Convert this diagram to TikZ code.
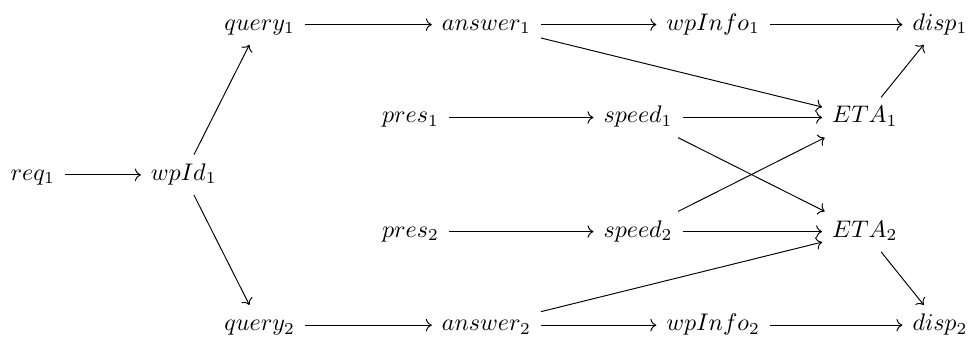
\documentclass[tikz,border=0pt]{standalone}
\usepackage{amsmath,amssymb}
\usepackage{tikz}
\usetikzlibrary{arrows.meta,positioning}

\begin{document}
\begin{tikzpicture}[ev/.style={inner sep=4pt,text height=1.5ex,text depth=0.45ex},
  >={Computer Modern Rightarrow}]
\useasboundingbox (0,0) rectangle (14.2,4.99);
% request and lookup
\node[ev] (req1) at (0.48,2.43) {$req_1$};
\node[ev] (wpId1) at (2.69,2.43) {$wpId_1$};
\node[ev] (query1) at (3.80,4.63) {$query_1$};
\node[ev] (query2) at (3.80,0.23) {$query_2$};
\node[ev] (answer1) at (7.12,4.63) {$answer_1$};
\node[ev] (answer2) at (7.12,0.23) {$answer_2$};
\node[ev] (wpInfo1) at (10.44,4.63) {$wpInfo_1$};
\node[ev] (wpInfo2) at (10.44,0.23) {$wpInfo_2$};
\node[ev] (disp1) at (13.76,4.63) {$disp_1$};
\node[ev] (disp2) at (13.76,0.23) {$disp_2$};
% sensors
\node[ev] (pres1) at (6.01,3.27) {$pres_1$};
\node[ev] (pres2) at (6.01,1.60) {$pres_2$};
\node[ev] (speed1) at (9.34,3.27) {$speed_1$};
\node[ev] (speed2) at (9.34,1.60) {$speed_2$};
\node[ev] (ETA1) at (12.66,3.27) {$ETA_1$};
\node[ev] (ETA2) at (12.66,1.60) {$ETA_2$};

\draw[->] (req1) -- (wpId1);
\draw[->] (wpId1) -- (query1);
\draw[->] (wpId1) -- (query2);
\foreach \i in {1,2}{
  \draw[->] (query\i) -- (answer\i);
  \draw[->] (answer\i) -- (wpInfo\i);
  \draw[->] (wpInfo\i) -- (disp\i);
  \draw[->] (pres\i) -- (speed\i);
  \draw[->] (speed\i) -- (ETA\i);
  \draw[->] (answer\i) -- (ETA\i);
  \draw[->] (ETA\i) -- (disp\i);
}
\draw[->] (speed1) -- (ETA2);
\draw[->] (speed2) -- (ETA1);
\end{tikzpicture}
\end{document}
